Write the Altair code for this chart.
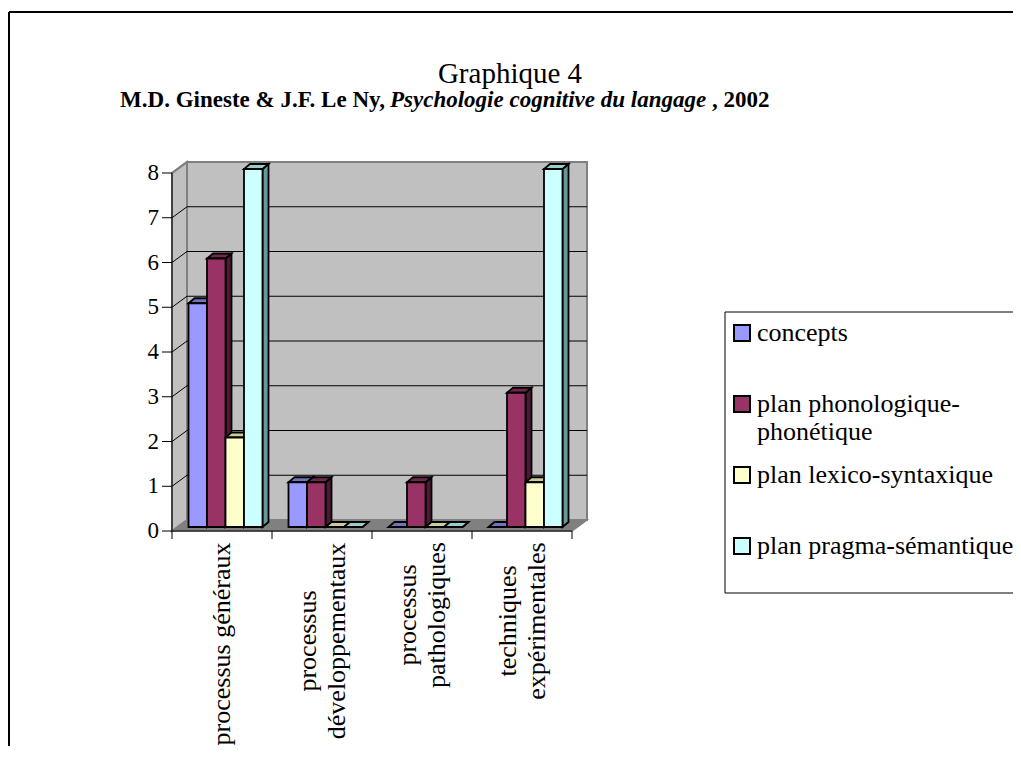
import altair as alt
import pandas as pd

# ---------------- data ----------------
categories = ["processus généraux", "processus développementaux",
              "processus pathologiques", "techniques expérimentales"]
category_lines = [["processus généraux"], ["processus", "développementaux"],
                  ["processus", "pathologiques"], ["techniques", "expérimentales"]]
series = ["concepts", "plan phonologique-phonétique",
          "plan lexico-syntaxique", "plan pragma-sémantique"]
series_lines = [["concepts"], ["plan phonologique-", "phonétique"],
                ["plan lexico-syntaxique"], ["plan pragma-sémantique"]]
concepts = [5, 1, 0, 0]
phonologique = [6, 1, 1, 3]
lexico = [2, 0, 0, 1]
pragma = [8, 0, 0, 8]
values = [concepts, phonologique, lexico, pragma]
y_ticks = [0, 1, 2, 3, 4, 5, 6, 7, 8]

front_colors = ["#9999FF", "#993366", "#FFFFCC", "#CCFFFF"]
top_colors = ["#7373BF", "#732650", "#CCCC99", "#99CCCC"]
side_colors = ["#4D4D80", "#4D1A33", "#808066", "#669999"]

title_text = "Graphique 4"
sub_1 = "M.D. Gineste & J.F. Le Ny,"
sub_2 = "Psychologie cognitive du langage"
sub_3 = ", 2002"

# ---------------- layout constants ----------------
FONT = "Liberation Serif"
W, H = 415, 369
PAD_L, PAD_T, PAD_R, PAD_B = 164, 154, 426, 215
RIGHT_EDGE = W + PAD_R          # svg right edge, relative to the plot origin
PX_Y = 44.75                 # pixels per unit on y
DX = 0.15                    # wall depth (x units)
DY = 11 / PX_Y               # wall depth (y units)
YMAX = 8 + DY
XMAX = 4 + DX
BAR_OFF, BAR_W = 0.165, 0.185
BAR_BASE = 4 / PX_Y
BAR_DX, BAR_DY = 0.06, 5 / PX_Y

xs = alt.Scale(domain=[0, XMAX], nice=False, zero=False)
ys = alt.Scale(domain=[0, YMAX], nice=False, zero=False)


def X(f, **kw):
    return alt.X(f, type="quantitative", scale=xs, axis=None, **kw)


def Y(f, **kw):
    return alt.Y(f, type="quantitative", scale=ys, axis=None, **kw)


one = pd.DataFrame({"a": [0]})
layers = []


def hline(x1, x2, y, color="black", w=1.0):
    return alt.Chart(one).mark_rule(color=color, strokeWidth=w).encode(
        x=alt.value(x1), x2=alt.value(x2), y=alt.value(y))


def vline(x, y1, y2, color="black", w=1.0):
    return alt.Chart(one).mark_rule(color=color, strokeWidth=w).encode(
        x=alt.value(x), y=alt.value(y1), y2=alt.value(y2))


# outer frame (only left and top edges fall inside the picture)
layers.append(hline(-163, RIGHT_EDGE, -150, w=2))
layers.append(vline(-163, -150, H + PAD_B, w=2))

# back wall
wall = pd.DataFrame({"x0": [DX], "x1": [XMAX], "y0": [DY], "y1": [YMAX]})
layers.append(alt.Chart(wall).mark_rect(fill="#C0C0C0", stroke="#808080", strokeWidth=2).encode(
    x=X("x0"), x2=alt.X2("x1"), y=Y("y0"), y2=alt.Y2("y1")))

# left wall (vertical parallelogram)
lw = pd.DataFrame({"x": [0, DX], "lo": [0, DY], "hi": [8, YMAX]})
layers.append(alt.Chart(lw).mark_area(orient="vertical", fill="#C0C0C0", stroke="#808080",
                                      strokeWidth=2).encode(
    x=X("x"), y=Y("lo"), y2=alt.Y2("hi")))

# floor (horizontal parallelogram)
fl = pd.DataFrame({"y": [0, DY], "lo": [0, DX], "hi": [4, XMAX]})
layers.append(alt.Chart(fl).mark_area(orient="horizontal", fill="#808080", stroke="#808080",
                                      strokeWidth=1.5).encode(
    y=Y("y"), x=X("lo"), x2=alt.X2("hi")))

# gridlines: diagonal on left wall then across back wall
grid_rows = []
for v in y_ticks[1:-1]:
    for k, (gx, gy) in enumerate([(0, v), (DX, v + DY), (XMAX, v + DY)]):
        grid_rows.append({"v": v, "k": k, "x": gx, "y": gy})
layers.append(alt.Chart(pd.DataFrame(grid_rows)).mark_line(color="black", strokeWidth=1).encode(
    x=X("x"), y=Y("y"), detail="v:N", order="k:Q"))
# top diagonal edge of left wall
layers.append(alt.Chart(pd.DataFrame({"x": [0, DX], "y": [8, YMAX]})).mark_line(
    color="#808080", strokeWidth=2).encode(x=X("x"), y=Y("y"), order="x:Q"))

# x axis line and category ticks
layers.append(alt.Chart(one).mark_rule(color="black", strokeWidth=1).encode(
    x=alt.X(datum=0, scale=xs, axis=None), x2=alt.X2(datum=4),
    y=alt.Y(datum=0, scale=ys, axis=None)))
layers.append(alt.Chart(pd.DataFrame({"b": [0, 1, 2, 3, 4]})).mark_rule(color="black", strokeWidth=1).encode(
    x=X("b"), y=alt.Y(datum=0, scale=ys, axis=None), y2=alt.value(H + 8)))

# y axis line, ticks, labels
layers.append(alt.Chart(one).mark_rule(color="black", strokeWidth=1).encode(
    x=alt.X(datum=0, scale=xs, axis=None),
    y=alt.Y(datum=0, scale=ys, axis=None), y2=alt.Y2(datum=8)))
tick_df = pd.DataFrame({"t": y_ticks, "lab": [str(t) for t in y_ticks]})
layers.append(alt.Chart(tick_df).mark_rule(color="black", strokeWidth=1).encode(
    x=alt.value(-10), x2=alt.value(0), y=Y("t")))
layers.append(alt.Chart(tick_df).mark_text(font=FONT, fontSize=23, align="right",
                                           baseline="middle", color="black").encode(
    x=alt.value(-13), y=Y("t"), text="lab:N"))

# ---------------- 3D bars ----------------
front, side, top = [], [], []
for i, s in enumerate(series):
    for g in range(len(categories)):
        v = values[i][g]
        x0 = g + BAR_OFF + i * BAR_W
        x1 = x0 + BAR_W
        y0 = BAR_BASE
        y1 = y0 + v
        bid = f"{g}-{i}"
        front.append({"x0": x0, "x1": x1, "y0": y0, "y1": y1, "fill": front_colors[i]})
        side.append({"id": bid, "x": x1, "lo": y0, "hi": y1, "fill": side_colors[i]})
        side.append({"id": bid, "x": x1 + BAR_DX, "lo": y0 + BAR_DY, "hi": y1 + BAR_DY,
                     "fill": side_colors[i]})
        top.append({"id": bid, "y": y1, "lo": x0, "hi": x1, "fill": top_colors[i]})
        top.append({"id": bid, "y": y1 + BAR_DY, "lo": x0 + BAR_DX, "hi": x1 + BAR_DX,
                    "fill": top_colors[i]})

layers.append(alt.Chart(pd.DataFrame(side)).mark_area(orient="vertical", stroke="black",
                                                      strokeWidth=1.8, strokeJoin="miter").encode(
    x=X("x"), y=Y("lo"), y2=alt.Y2("hi"), detail="id:N",
    fill=alt.Fill("fill:N", scale=None)))
layers.append(alt.Chart(pd.DataFrame(top)).mark_area(orient="horizontal", stroke="black",
                                                     strokeWidth=1.8, strokeJoin="miter").encode(
    y=Y("y"), x=X("lo"), x2=alt.X2("hi"), detail="id:N",
    fill=alt.Fill("fill:N", scale=None)))
layers.append(alt.Chart(pd.DataFrame(front)).mark_rect(stroke="black", strokeWidth=1.8).encode(
    x=X("x0"), x2=alt.X2("x1"), y=Y("y0"), y2=alt.Y2("y1"),
    fill=alt.Fill("fill:N", scale=None)))

# ---------------- category labels (rotated) ----------------
LABEL_CENTER = [482, 479, 453, 459]     # pixel centre of each rotated label block
LINE_H = 0.29
for g, lines in enumerate(category_lines):
    n = len(lines)
    for li, line in enumerate(lines):
        layers.append(alt.Chart(one).mark_text(font=FONT, fontSize=26, angle=270, align="center",
                                               baseline="middle", color="black").encode(
            x=alt.X(datum=g + 0.5 + (li - (n - 1) / 2) * LINE_H, scale=xs, axis=None),
            y=alt.value(LABEL_CENTER[g]), text=alt.value(line)))

# ---------------- titles ----------------
layers.append(alt.Chart(one).mark_text(font=FONT, fontSize=29, align="center", baseline="middle",
                                       color="black").encode(
    x=alt.value(338), y=alt.value(-88), text=alt.value(title_text)))
SUB_Y, SUB_FS = -62, 23
layers.append(alt.Chart(one).mark_text(font=FONT, fontSize=SUB_FS, fontWeight="bold", align="right",
                                       baseline="middle", color="black").encode(
    x=alt.value(213), y=alt.value(SUB_Y), text=alt.value(sub_1)))
layers.append(alt.Chart(one).mark_text(font=FONT, fontSize=SUB_FS, fontWeight="bold", fontStyle="italic",
                                       align="left", baseline="middle", color="black").encode(
    x=alt.value(218), y=alt.value(SUB_Y), text=alt.value(sub_2)))
layers.append(alt.Chart(one).mark_text(font=FONT, fontSize=SUB_FS, fontWeight="bold", align="left",
                                       baseline="middle", color="black").encode(
    x=alt.value(540), y=alt.value(SUB_Y), text=alt.value(sub_3)))

# ---------------- legend ----------------
LEG_X, LEG_TOP, LEG_BOTTOM = 553, 150, 431
LEG_FIRST, LEG_STEP, LEG_LINE = 171, 71, 28
layers.append(hline(LEG_X, RIGHT_EDGE, LEG_TOP))
layers.append(hline(LEG_X, RIGHT_EDGE, LEG_BOTTOM))
layers.append(vline(LEG_X, LEG_TOP, LEG_BOTTOM))
for i, lines in enumerate(series_lines):
    cy = LEG_FIRST + i * LEG_STEP
    layers.append(alt.Chart(one).mark_rect(fill=front_colors[i], stroke="black", strokeWidth=2).encode(
        x=alt.value(LEG_X + 9), x2=alt.value(LEG_X + 25), y=alt.value(cy - 8), y2=alt.value(cy + 8)))
    for li, line in enumerate(lines):
        layers.append(alt.Chart(one).mark_text(font=FONT, fontSize=26, align="left",
                                               baseline="middle", color="black").encode(
            x=alt.value(LEG_X + 32), y=alt.value(cy + li * LEG_LINE), text=alt.value(line)))

chart = alt.layer(*layers).properties(
    width=W, height=H,
    autosize=alt.AutoSizeParams(type="none"),
    padding={"left": PAD_L, "top": PAD_T, "right": PAD_R, "bottom": PAD_B},
    background="white",
).configure_view(stroke=None)

chart.save("out.html", embed_options={"renderer": "svg", "actions": False})
